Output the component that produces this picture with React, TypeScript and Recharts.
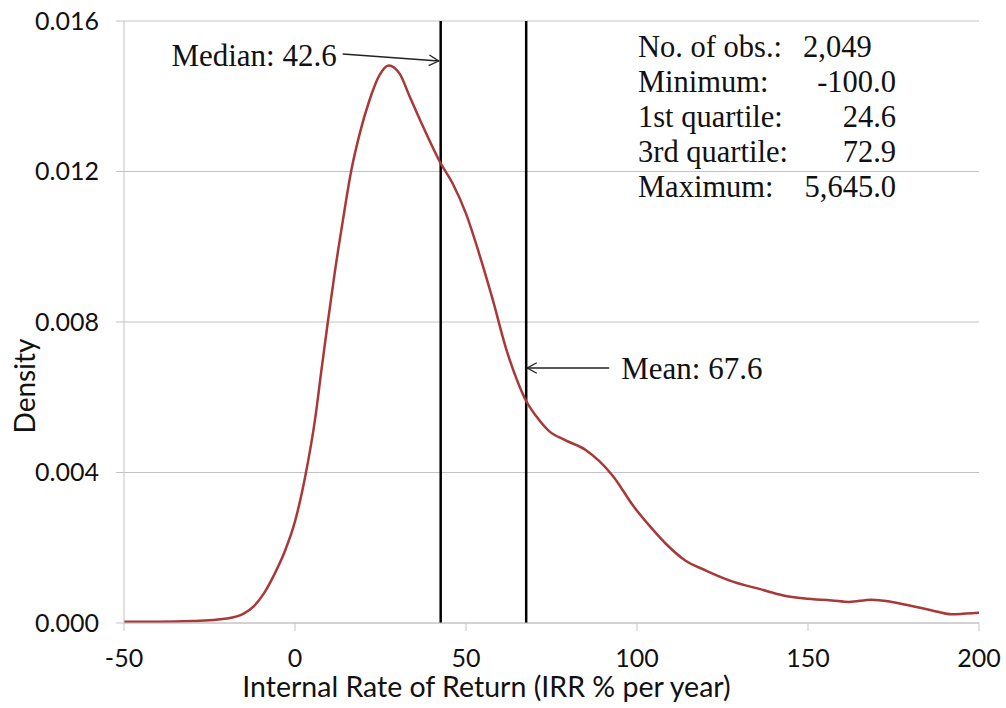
import React from 'react';
import { LineChart, Line, XAxis, YAxis, CartesianGrid, ReferenceLine } from 'recharts';

// IRR (% per year) grid and kernel density estimate
const irr = [
  -50, -40, -30, -20, -15, -12, -9, -6, -3, 0, 3, 6, 7.7, 9.6, 11.6, 14, 16.4, 18.9, 21.8,
  24.7, 27.4, 30.6, 33.5, 37.4, 42.4, 46.1, 50, 53.9, 57.8, 61.7, 65.6, 67.6, 70.5, 74.3,
  79, 85, 89, 93, 99, 103.5, 108.5, 114, 120, 128, 136, 142.5, 149, 157, 162, 168.5, 174.5,
  181, 186, 192, 196, 200,
];
const density = [
  0.00003, 0.00003, 0.00005, 0.00012, 0.00025, 0.00045, 0.0008, 0.0013, 0.0019, 0.0027,
  0.0039, 0.0055, 0.0067, 0.008, 0.0093, 0.0107, 0.012, 0.013, 0.0139, 0.01456, 0.01482,
  0.0146, 0.014, 0.0132, 0.01225, 0.01168, 0.01088, 0.0098, 0.0086, 0.0073, 0.0063, 0.0059,
  0.0055, 0.0051, 0.00486, 0.0046, 0.0043, 0.0039, 0.0031, 0.0026, 0.0021, 0.00167,
  0.0014, 0.0011, 0.0009, 0.00074, 0.00065, 0.0006, 0.00056, 0.00062, 0.00056, 0.00044,
  0.00034, 0.00023, 0.00025, 0.00027,
];

const xTicks = [-50, 0, 50, 100, 150, 200];
const yTicks = [0, 0.004, 0.008, 0.012, 0.016];

const median = 42.6;
const mean = 67.6;

const statLabels = ['No. of obs.:', 'Minimum:', '1st quartile:', '3rd quartile:', 'Maximum:'];
const statValues = ['2,049', '-100.0', '24.6', '72.9', '5,645.0'];

const data = irr.map((x, i) => ({ x, d: density[i] }));

const SANS = 'Lato, "Open Sans", sans-serif';
const SERIF = '"Liberation Serif", "Times New Roman", serif';

const Arrow = ({ x1, y1, x2, y2 }: { x1: number; y1: number; x2: number; y2: number }) => {
  const ang = Math.atan2(y2 - y1, x2 - x1);
  const len = 11;
  const spread = 0.5;
  const a1x = x2 - len * Math.cos(ang - spread);
  const a1y = y2 - len * Math.sin(ang - spread);
  const a2x = x2 - len * Math.cos(ang + spread);
  const a2y = y2 - len * Math.sin(ang + spread);
  return (
    <g stroke="#222" strokeWidth={1.3} fill="none">
      <line x1={x1} y1={y1} x2={x2} y2={y2} />
      <polyline points={`${a1x},${a1y} ${x2},${y2} ${a2x},${a2y}`} />
    </g>
  );
};

const MedianNote = (props: any) => {
  const vb = props.viewBox || {};
  const lx = vb.x;
  const top = vb.y;
  return (
    <g>
      <text x={lx - 104} y={top + 45} textAnchor="end" fontFamily={SERIF} fontSize={31} fill="#111">
        {`Median: ${median}`}
      </text>
      <Arrow x1={lx - 98} y1={top + 33} x2={lx - 2} y2={top + 40} />
    </g>
  );
};

const MeanNote = (props: any) => {
  const vb = props.viewBox || {};
  const lx = vb.x;
  const top = vb.y;
  return (
    <g>
      <text x={lx + 95} y={top + 358} textAnchor="start" fontFamily={SERIF} fontSize={31} fill="#111">
        {`Mean: ${mean}`}
      </text>
      <Arrow x1={lx + 83} y1={top + 347} x2={lx + 1} y2={top + 347} />
    </g>
  );
};

const DensityLabel = (props: any) => {
  const vb = props.viewBox || {};
  const cx = 35;
  const cy = vb.y + vb.height / 2 + 64;
  return (
    <text
      x={cx}
      y={cy}
      transform={`rotate(-90, ${cx}, ${cy})`}
      textAnchor="middle"
      fontFamily={SANS}
      fontSize={28}
      fill="#111"
    >
      Density
    </text>
  );
};

const XTitle = (props: any) => {
  const vb = props.viewBox || {};
  const cx = vb.x + vb.width / 2 - 65;
  return (
    <text x={cx} y={697} textAnchor="middle" fontFamily={SANS} fontSize={28.5} fill="#111">
      Internal Rate of Return (IRR % per year)
    </text>
  );
};

export default function App() {
  return (
    <div style={{ position: 'absolute', left: 0, top: 0, width: 1006, height: 708, background: '#fff' }}>
      <LineChart
        width={1006}
        height={708}
        data={data}
        margin={{ top: 21, right: 27, bottom: 0, left: 0 }}
      >
        <CartesianGrid horizontal vertical={false} stroke="#c4c4c4" strokeWidth={1} />
        <XAxis
          dataKey="x"
          type="number"
          domain={[-50, 200]}
          ticks={xTicks}
          allowDataOverflow
          height={85}
          stroke="#c4c4c4"
          tickSize={8}
          tickMargin={18}
          tick={{ fill: '#111', fontSize: 25, fontFamily: SANS }}
          label={<XTitle />}
        />
        <YAxis
          type="number"
          domain={[0, 0.016]}
          ticks={yTicks}
          width={124}
          stroke="#c4c4c4"
          tickSize={8}
          tickMargin={17}
          tickFormatter={(v: number) => v.toFixed(3)}
          tick={{ fill: '#111', fontSize: 25, fontFamily: SANS }}
          label={<DensityLabel />}
        />
        <ReferenceLine x={median} stroke="#000" strokeWidth={2.5} label={<MedianNote />} />
        <ReferenceLine x={mean} stroke="#000" strokeWidth={2.5} label={<MeanNote />} />
        <Line
          type="monotone"
          dataKey="d"
          stroke="#a93838"
          strokeWidth={2.5}
          dot={false}
          activeDot={false}
          isAnimationActive={false}
        />
      </LineChart>
      <svg
        width={1006}
        height={708}
        style={{ position: 'absolute', left: 0, top: 0, pointerEvents: 'none' }}
      >
        {statLabels.map((lab, i) => (
          <g key={lab}>
            <text x={638} y={57 + i * 35} fontFamily={SERIF} fontSize={30.5} fill="#111">
              {lab}
            </text>
            <text
              x={i === 0 ? 803 : 896}
              y={57 + i * 35}
              textAnchor={i === 0 ? 'start' : 'end'}
              fontFamily={SERIF}
              fontSize={30.5}
              fill="#111"
            >
              {statValues[i]}
            </text>
          </g>
        ))}
      </svg>
    </div>
  );
}
